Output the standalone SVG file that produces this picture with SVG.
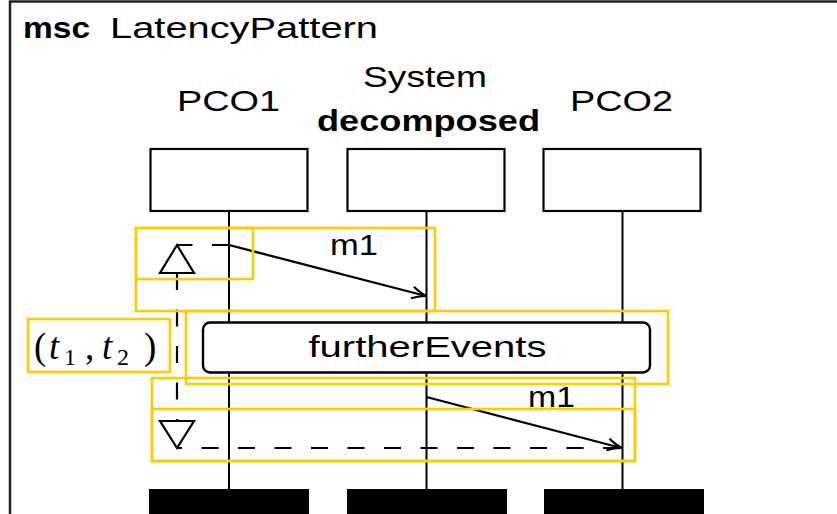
<svg xmlns="http://www.w3.org/2000/svg" width="837" height="514" viewBox="0 0 837 514">
  <style>
    .lbl { font-family: "Liberation Sans", Arial, sans-serif; font-size: 30px; fill: #000; }
    .bold { font-weight: bold; }
    .math { font-family: "Liberation Serif", "Times New Roman", serif; fill: #000; }
    .inst { fill: #fff; stroke: #000; stroke-width: 2.2; }
    .life { stroke: #000; stroke-width: 2; fill: none; }
    .bar { fill: #000; }
    .msg { stroke: #000; stroke-width: 2.3; fill: none; marker-end: url(#open); }
    .dash { stroke: #000; stroke-width: 2.2; fill: none; stroke-dasharray: 17 19.5; }
    .tri { fill: #fff; stroke: #000; stroke-width: 2.2; stroke-linejoin: miter; }
    .hl { fill: none; stroke: #FFCC00; stroke-width: 2.6; }
  </style>
  <defs>
    <marker id="open" markerUnits="userSpaceOnUse" markerWidth="20" markerHeight="16" viewBox="-16 -8 18 16" refX="0" refY="0" orient="auto">
      <path d="M-14,-6 Q-6,-1.5 0,0 Q-6,1.5 -14,6" fill="none" stroke="#000" stroke-width="2.2"/>
    </marker>
  </defs>

  <!-- diagram frame -->
  <g id="frame">
    <path d="M10,514 V1.5 H837" fill="none" stroke="#222" stroke-width="2.5"/>
    <text class="lbl" y="37.5" font-size="29"><tspan class="bold" x="23" textLength="67" lengthAdjust="spacingAndGlyphs">msc</tspan><tspan x="110" textLength="268" lengthAdjust="spacingAndGlyphs">LatencyPattern</tspan></text>
  </g>

  <!-- instances -->
  <g id="pco1">
    <text class="lbl" x="177" y="110.5" textLength="103" lengthAdjust="spacingAndGlyphs">PCO1</text>
    <rect class="inst" x="150.5" y="149" width="157" height="62"/>
    <line class="life" x1="229" y1="211" x2="229" y2="489"/>
    <rect class="bar" x="149" y="489" width="160" height="25"/>
  </g>
  <g id="system">
    <text class="lbl" x="363" y="87" font-size="31.5" textLength="124" lengthAdjust="spacingAndGlyphs">System</text>
    <text class="lbl bold" x="317" y="131" font-size="32.5" textLength="223" lengthAdjust="spacingAndGlyphs">decomposed</text>
    <rect class="inst" x="347.5" y="149" width="157" height="62"/>
    <line class="life" x1="426.5" y1="211" x2="426.5" y2="489"/>
    <rect class="bar" x="347" y="489" width="160" height="25"/>
  </g>
  <g id="pco2">
    <text class="lbl" x="570" y="110.5" textLength="103" lengthAdjust="spacingAndGlyphs">PCO2</text>
    <rect class="inst" x="543.5" y="149" width="157" height="62"/>
    <line class="life" x1="622.5" y1="211" x2="622.5" y2="489"/>
    <rect class="bar" x="544" y="489" width="160" height="25"/>
  </g>

  <!-- inline reference -->
  <g id="furtherEvents">
    <rect x="203" y="322.5" width="447" height="50" rx="7" fill="#fff" stroke="#000" stroke-width="2.4"/>
    <text class="lbl" x="308.5" y="357" font-size="31" textLength="238" lengthAdjust="spacingAndGlyphs">furtherEvents</text>
  </g>

  <!-- connectors -->
  <g id="connectors">
    <path class="msg" d="M229,245 L426,296"/>
    <text class="lbl" x="330" y="255" font-size="31" textLength="48" lengthAdjust="spacingAndGlyphs">m1</text>
    <path class="msg" d="M426.5,397 L621.5,448"/>
    <text class="lbl" x="528" y="407" font-size="31" textLength="47" lengthAdjust="spacingAndGlyphs">m1</text>

    <!-- latency constraint -->
    <path class="dash" d="M229,245 H177"/>
    <path class="dash" d="M177,273 V421"/>
    <path class="dash" d="M620,448 H177"/>
    <path class="tri" d="M177,245 L194,273 L160,273 Z"/>
    <path class="tri" d="M160,421 L194,421 L177,448 Z"/>
    <text class="math" y="359" font-size="37">
      <tspan x="34">(</tspan><tspan x="49" font-style="italic">t</tspan><tspan x="64" y="365" font-size="24">1</tspan><tspan x="85" y="359">,</tspan><tspan x="102" font-style="italic">t</tspan><tspan x="117" y="365" font-size="24">2</tspan><tspan x="144" y="359">)</tspan>
    </text>
  </g>

  <!-- highlight boxes -->
  <g id="highlights">
    <rect class="hl" x="136" y="228" width="117" height="51"/>
    <rect class="hl" x="136" y="228" width="299" height="83"/>
    <rect class="hl" x="28" y="319" width="142" height="53"/>
    <rect class="hl" x="186" y="311" width="482" height="73"/>
    <rect class="hl" x="152" y="378" width="483" height="83"/>
    <rect class="hl" x="152" y="409" width="483" height="52"/>
  </g>
</svg>
